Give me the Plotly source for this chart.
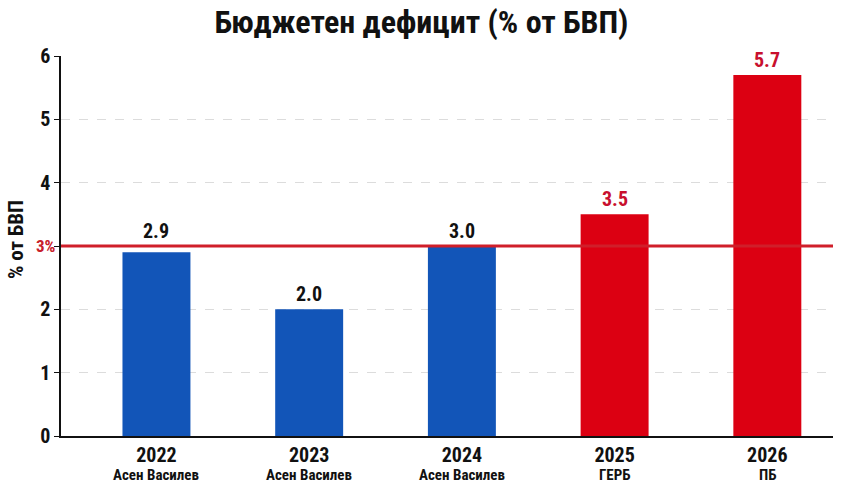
import plotly.graph_objects as go

years = ["2022", "2023", "2024", "2025", "2026"]
governments = ["Асен Василев", "Асен Василев", "Асен Василев", "ГЕРБ", "ПБ"]
deficit = [2.9, 2.0, 3.0, 3.5, 5.7]
bar_colors = ["#1255b8", "#1255b8", "#1255b8", "#dc0012", "#dc0012"]
label_colors = ["#111111", "#111111", "#111111", "#c8102e", "#c8102e"]
threshold = 3.0
y_ticks = [0, 1, 2, 3, 4, 5, 6]
y_ticktext = ["0", "1", "2", "", "4", "5", "6"]

FONT = "Roboto Condensed, Liberation Sans Narrow, DejaVu Sans Condensed, Roboto, Arial, sans-serif"

fig = go.Figure()
fig.add_trace(go.Bar(
    x=years,
    y=deficit,
    marker=dict(color=bar_colors, line=dict(width=0)),
    hoverinfo="skip",
))

for i, (v, c) in enumerate(zip(deficit, label_colors)):
    # labels just under the 3% line are lifted above it
    label_y = threshold if threshold - 0.2 < v < threshold else v
    fig.add_annotation(x=i, y=label_y, text=f"{v:.1f}", showarrow=False,
                       xanchor="center", yanchor="bottom", yshift=1,
                       font=dict(family=FONT, size=20, color=c, weight="bold"))

for i, g in enumerate(governments):
    fig.add_annotation(x=i, xref="x", y=0, yref="paper", text=g, showarrow=False,
                       xanchor="center", yanchor="middle", yshift=-39,
                       font=dict(family=FONT, size=15, color="#111111", weight="bold"))

fig.add_shape(type="line", xref="paper", x0=0, x1=1, yref="y", y0=threshold, y1=threshold,
              line=dict(color="#d01f2a", width=3), layer="above")
fig.add_annotation(xref="paper", x=0, yref="y", y=threshold, text="3%", showarrow=False,
                   xanchor="right", yanchor="middle", xshift=-3,
                   font=dict(family=FONT, size=17, color="#c8202a", weight="bold"))

fig.add_annotation(xref="paper", x=0, yref="paper", y=0.5, text="% от БВП", showarrow=False,
                   textangle=-90, xanchor="center", yanchor="middle", xshift=-45, yshift=6,
                   font=dict(family=FONT, size=21, color="#111111", weight="bold"))

fig.update_layout(
    width=843, height=485,
    margin=dict(l=61, r=10, t=56, b=49),
    paper_bgcolor="white", plot_bgcolor="white",
    bargap=0.555,
    showlegend=False,
    font=dict(family=FONT, color="#111111"),
    title=dict(text="Бюджетен дефицит (% от БВП)", x=0.5, xanchor="center", y=0.955, yanchor="middle",
               font=dict(family=FONT, size=32, color="#111111", weight="bold")),
    xaxis=dict(
        type="category",
        range=[-0.625, 4.43],
        automargin=False,
        showline=True, linecolor="#111111", linewidth=1.5,
        ticks="", showgrid=False, ticklabelstandoff=0,
        tickfont=dict(family=FONT, size=20, color="#111111", weight="bold"),
    ),
    yaxis=dict(
        range=[0, 6],
        automargin=False,
        tickvals=y_ticks, ticktext=y_ticktext,
        showline=True, linecolor="#111111", linewidth=1.5,
        ticks="outside", ticklen=5, tickcolor="#111111",
        showgrid=True, gridcolor="#dcdcdc", griddash="dash", gridwidth=1,
        zeroline=False,
        tickfont=dict(family=FONT, size=20, color="#111111", weight="bold"),
    ),
)

fig.write_html("out.html")
